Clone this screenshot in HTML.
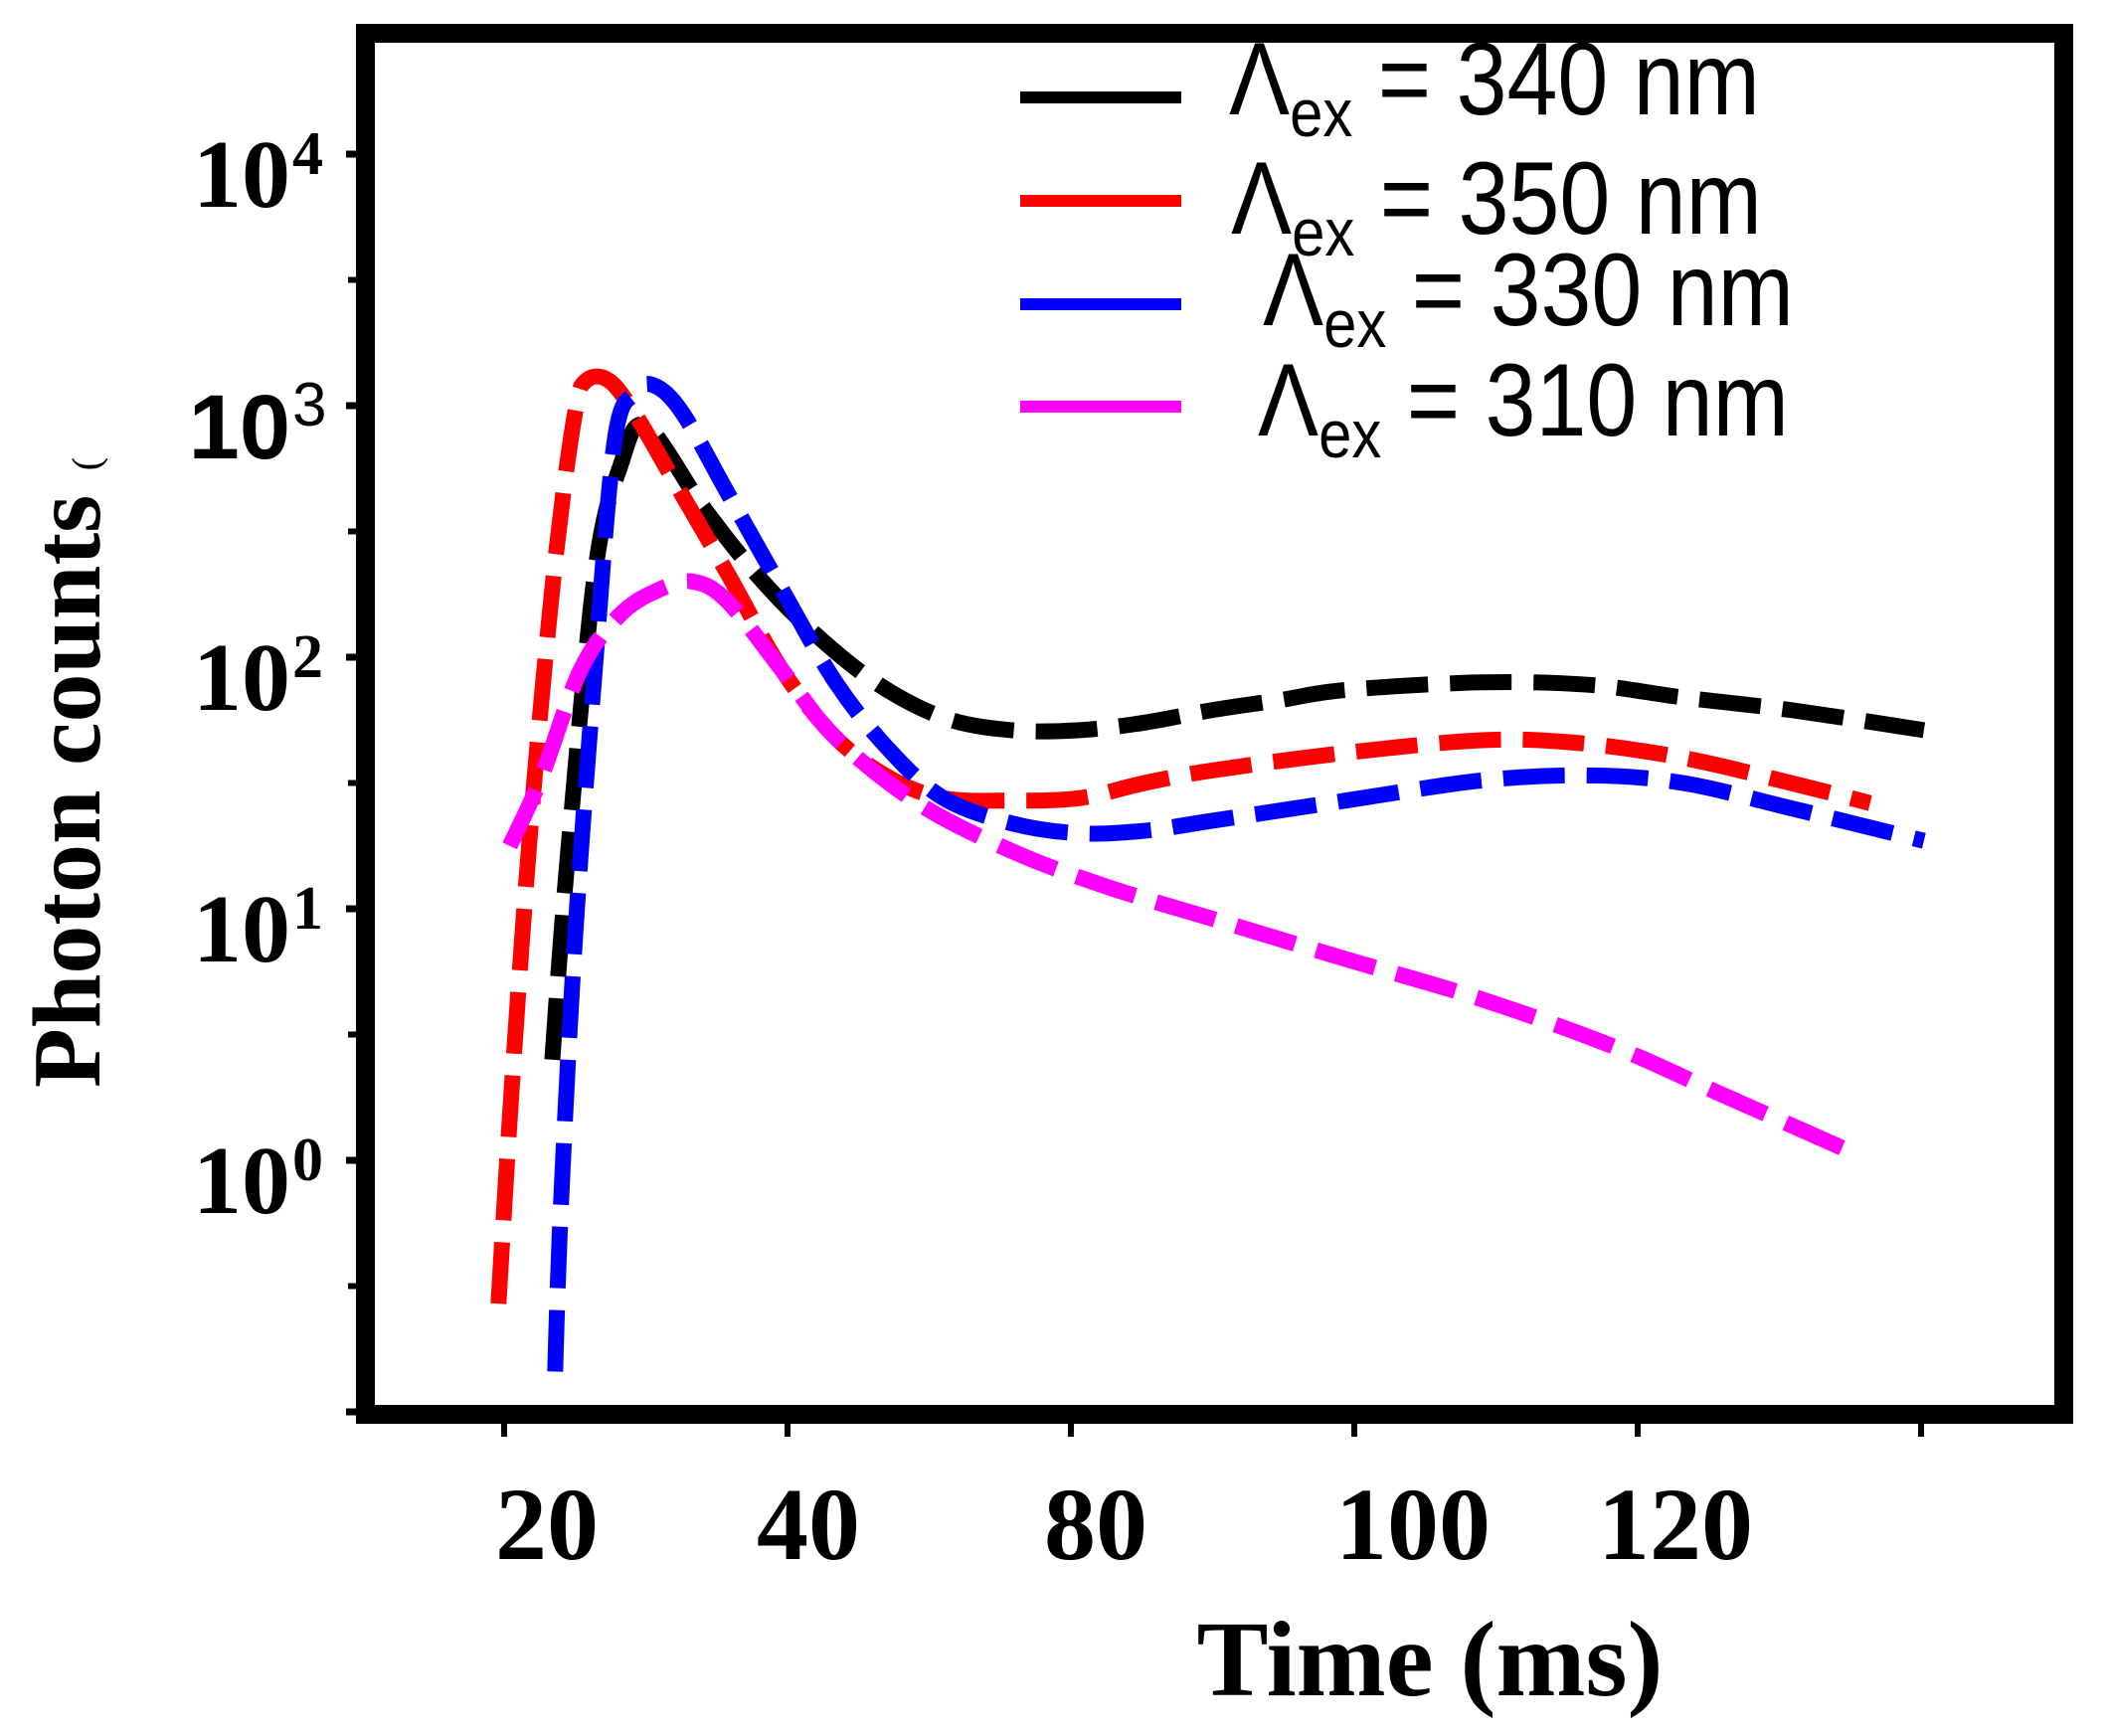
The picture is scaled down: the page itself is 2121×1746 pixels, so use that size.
<!DOCTYPE html>
<html><head><meta charset="utf-8"><style>
html,body{margin:0;padding:0;background:#fff;}
svg{display:block;}
.tl{font-family:"Liberation Serif",serif;font-weight:bold;fill:#000;}
.lg{font-family:"Liberation Sans",sans-serif;fill:#000;}
</style></head><body>
<svg id="chart" width="2121" height="1746" viewBox="0 0 2121 1746">
<rect x="0" y="0" width="2121" height="1746" fill="#fff"/>
<g id="frame">
<rect x="358" y="24" width="19" height="1405" fill="#000"/>
<rect x="358" y="24" width="1727" height="19" fill="#000"/>
<rect x="2066" y="24" width="19" height="1408" fill="#000"/>
<rect x="358" y="1413" width="1727" height="19" fill="#000"/>
</g>
<g id="marks"></g>
<g id="legend">
<rect x="1026" y="92" width="162" height="12" fill="#000"/>
<text class="lg" transform="translate(1236,115) scale(0.88,1)" font-size="104"><tspan font-size="104">Λ</tspan><tspan font-size="68" dy="22">ex</tspan><tspan dy="-22"> = 340 nm</tspan></text>
<rect x="1026" y="196" width="162" height="12" fill="#f00"/>
<text class="lg" transform="translate(1238,235) scale(0.88,1)" font-size="104"><tspan font-size="104">Λ</tspan><tspan font-size="68" dy="22">ex</tspan><tspan dy="-22"> = 350 nm</tspan></text>
<rect x="1026" y="300" width="162" height="12" fill="#00f"/>
<text class="lg" transform="translate(1270,327) scale(0.88,1)" font-size="104"><tspan font-size="104">Λ</tspan><tspan font-size="68" dy="22">ex</tspan><tspan dy="-22"> = 330 nm</tspan></text>
<rect x="1026" y="403" width="162" height="12" fill="#f0f"/>
<text class="lg" transform="translate(1265,438) scale(0.88,1)" font-size="104"><tspan font-size="104">Λ</tspan><tspan font-size="68" dy="22">ex</tspan><tspan dy="-22"> = 310 nm</tspan></text>
</g>
<text class="tl" transform="translate(100,1094) rotate(-90)" font-size="98">Photon counts <tspan font-size="40" font-weight="normal">(</tspan></text>
<text class="tl" x="1438" y="1705" font-size="108" text-anchor="middle">Time (ms)</text>
</svg>
<script>
const xTickLabels = ['20','40','80','100','120',''];
const xTickPos = [0,1,2,3,4,5];
const yTickExps = [-1,0,1,2,3,4];
const seriesNames = ['340 nm','350 nm','330 nm','310 nm'];
const seriesColors = ['#000','#f00','#00f','#f0f'];
const x340 = [0.17,0.22,0.32,0.41,0.50,0.70,0.89,1.08,1.31,1.55,1.79,2.03,2.26,2.50,2.74,2.97,3.45,3.83,4.16,4.54,5.01];
const y340 = [0.40,1.15,2.33,2.76,2.92,2.60,2.33,2.11,1.90,1.76,1.71,1.71,1.74,1.79,1.83,1.87,1.90,1.89,1.84,1.79,1.71];
const x350 = [-0.02,0.03,0.10,0.18,0.25,0.29,0.37,0.46,0.60,0.79,0.98,1.17,1.36,1.55,1.79,2.03,2.26,2.50,2.97,3.45,3.78,4.16,4.54,4.82];
const y350 = [-0.57,0.34,1.42,2.38,2.97,3.10,3.10,2.97,2.70,2.33,1.95,1.68,1.52,1.44,1.43,1.44,1.50,1.55,1.62,1.67,1.66,1.60,1.50,1.42];
const x330 = [0.18,0.20,0.25,0.32,0.39,0.46,0.53,0.63,0.79,0.98,1.17,1.36,1.55,1.79,2.03,2.26,2.50,2.97,3.45,3.83,4.16,4.54,5.01];
const y330 = [-0.84,-0.19,0.88,1.95,2.86,3.05,3.08,2.97,2.65,2.27,1.90,1.63,1.44,1.34,1.30,1.31,1.35,1.43,1.51,1.53,1.50,1.40,1.27];
const x310 = [0.02,0.13,0.27,0.41,0.55,0.67,0.79,0.98,1.17,1.46,1.79,2.12,2.50,2.97,3.45,3.92,4.30,4.78];
const y310 = [1.25,1.52,1.95,2.17,2.27,2.30,2.22,1.95,1.68,1.42,1.23,1.09,0.96,0.80,0.64,0.45,0.26,0.02];

const NS='http://www.w3.org/2000/svg';
const svg=document.getElementById('chart');
const marks=document.getElementById('marks');
function xs(u){return 507+u*285;}
function ys(lg){return 155+(4-lg)*253;}
function mk(tag,attrs,parent){const e=document.createElementNS(NS,tag);for(const k in attrs)e.setAttribute(k,attrs[k]);(parent||svg).appendChild(e);return e;}

const xLabelOffset=[43,21,25,59,38,0];
xTickPos.forEach((p,i)=>{
  const t=mk('line',{x1:xs(p),x2:xs(p),y1:1430,y2:1445,stroke:'#000','stroke-width':6});
  
  
  if(xTickLabels[i]){
    const l=mk('text',{x:xs(p)+xLabelOffset[i],y:1568,'font-size':104,'text-anchor':'middle',class:'tl'});
    l.textContent=xTickLabels[i];
    
    
  }
});
yTickExps.forEach(e=>{
  const y=ys(e);
  const t=mk('line',{x1:348,x2:360,y1:y,y2:y,stroke:'#000','stroke-width':7});
  
  
  if(e<4){
    const ym=ys(e+0.5);
    const m=mk('line',{x1:350,x2:360,y1:ym,y2:ym,stroke:'#000','stroke-width':6});
    
    
  }
  if(e>=0){
    const sans=(e===3);
    const l=mk('text',{x:292,y:y+53,'font-size':sans?92:98,'text-anchor':'end',class:'tl'});
    if(sans) l.setAttribute('style','font-family:"Liberation Sans",sans-serif;font-weight:bold');
    l.textContent='10';
    
    
    const s=mk('text',{x:294,y:y+20,'font-size':62,class:'tl'});
    if(sans) s.setAttribute('style','font-family:"Liberation Sans",sans-serif;font-weight:normal');
    s.textContent=String(e);
    
    
  }
});
function drawSeries(xv,yv,color,name){
  const pts=xv.map((u,i)=>[xs(u),ys(yv[i])]);
  let d='M'+pts[0][0]+','+pts[0][1];
  for(let i=0;i<pts.length-1;i++){
    const p0=pts[Math.max(0,i-1)],p1=pts[i],p2=pts[i+1],p3=pts[Math.min(pts.length-1,i+2)];
    const c1x=p1[0]+(p2[0]-p0[0])/6,c1y=p1[1]+(p2[1]-p0[1])/6;
    const c2x=p2[0]-(p3[0]-p1[0])/6,c2y=p2[1]-(p3[1]-p1[1])/6;
    d+=' C'+c1x+','+c1y+' '+c2x+','+c2y+' '+p2[0]+','+p2[1];
  }
  const p=mk('path',{d:d,fill:'none',stroke:color,'stroke-width':16,'stroke-dasharray':'62 22'},marks);
  
  
}
drawSeries(x340,y340,seriesColors[0],'series-340nm');
drawSeries(x350,y350,seriesColors[1],'series-350nm');
drawSeries(x330,y330,seriesColors[2],'series-330nm');
drawSeries(x310,y310,seriesColors[3],'series-310nm');
</script>
</body></html>
